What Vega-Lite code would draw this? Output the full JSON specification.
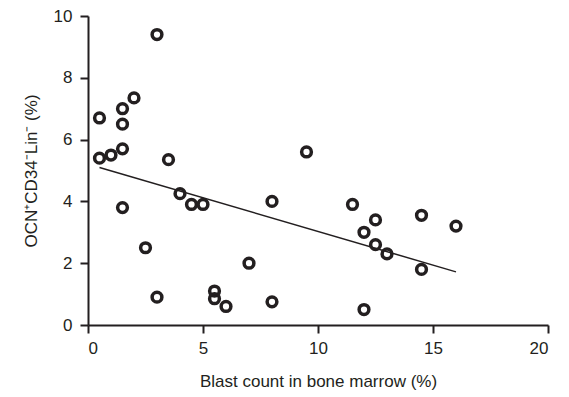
{
  "$schema": "https://vega.github.io/schema/vega-lite/v6.json",
  "width": 460,
  "height": 309,
  "autosize": "none",
  "padding": {"left": 88, "top": 16, "right": 21, "bottom": 72},
  "background": "white",
  "config": {
    "view": {"stroke": null},
    "font": "Liberation Sans",
    "axis": {
      "grid": false,
      "domainColor": "#231f20",
      "domainWidth": 2,
      "tickColor": "#231f20",
      "tickWidth": 2,
      "tickSize": 8,
      "labelColor": "#231f20",
      "labelFontSize": 17,
      "labelFont": "Liberation Sans",
      "titleColor": "#231f20",
      "titleFontSize": 17,
      "titleFont": "Liberation Sans",
      "titleFontWeight": "normal"
    }
  },
  "datasets": {
    "pts": [
      {"blast": 0.5, "ocn": 6.7},
      {"blast": 0.5, "ocn": 5.4},
      {"blast": 1.0, "ocn": 5.5},
      {"blast": 1.5, "ocn": 7.0},
      {"blast": 1.5, "ocn": 6.5},
      {"blast": 1.5, "ocn": 5.7},
      {"blast": 2.0, "ocn": 7.35},
      {"blast": 3.0, "ocn": 9.4},
      {"blast": 3.5, "ocn": 5.35},
      {"blast": 1.5, "ocn": 3.8},
      {"blast": 4.0, "ocn": 4.25},
      {"blast": 4.5, "ocn": 3.9},
      {"blast": 5.0, "ocn": 3.9},
      {"blast": 8.0, "ocn": 4.0},
      {"blast": 2.5, "ocn": 2.5},
      {"blast": 3.0, "ocn": 0.9},
      {"blast": 5.5, "ocn": 1.1},
      {"blast": 5.5, "ocn": 0.85},
      {"blast": 6.0, "ocn": 0.6},
      {"blast": 7.0, "ocn": 2.0},
      {"blast": 8.0, "ocn": 0.75},
      {"blast": 9.5, "ocn": 5.6},
      {"blast": 11.5, "ocn": 3.9},
      {"blast": 12.5, "ocn": 3.4},
      {"blast": 12.0, "ocn": 3.0},
      {"blast": 12.5, "ocn": 2.6},
      {"blast": 13.0, "ocn": 2.3},
      {"blast": 14.5, "ocn": 3.55},
      {"blast": 16.0, "ocn": 3.2},
      {"blast": 14.5, "ocn": 1.8},
      {"blast": 12.0, "ocn": 0.5}
    ],
    "fit": [
      {"blast": 0.5, "ocn": 5.1},
      {"blast": 16.0, "ocn": 1.72}
    ]
  },
  "layer": [
    {
      "data": {"name": "fit"},
      "mark": {"type": "line", "color": "#231f20", "strokeWidth": 1.5},
      "encoding": {
        "x": {"field": "blast", "type": "quantitative", "scale": {"domain": [0, 20], "nice": false, "zero": false}, "axis": {"values": [0, 5, 10, 15, 20], "title": "Blast count in bone marrow (%)", "labelPadding": 7, "titlePadding": 17}},
        "y": {"field": "ocn", "type": "quantitative", "scale": {"domain": [0, 10], "nice": false}, "axis": {"values": [0, 2, 4, 6, 8, 10], "title": "OCN⁺CD34⁻Lin⁻ (%)", "labelPadding": 8, "titlePadding": 13}}
      }
    },
    {
      "data": {"name": "pts"},
      "mark": {"type": "point", "filled": false, "color": "#231f20", "strokeWidth": 3.5, "size": 95, "opacity": 1},
      "encoding": {
        "x": {"field": "blast", "type": "quantitative"},
        "y": {"field": "ocn", "type": "quantitative"}
      }
    }
  ]
}
